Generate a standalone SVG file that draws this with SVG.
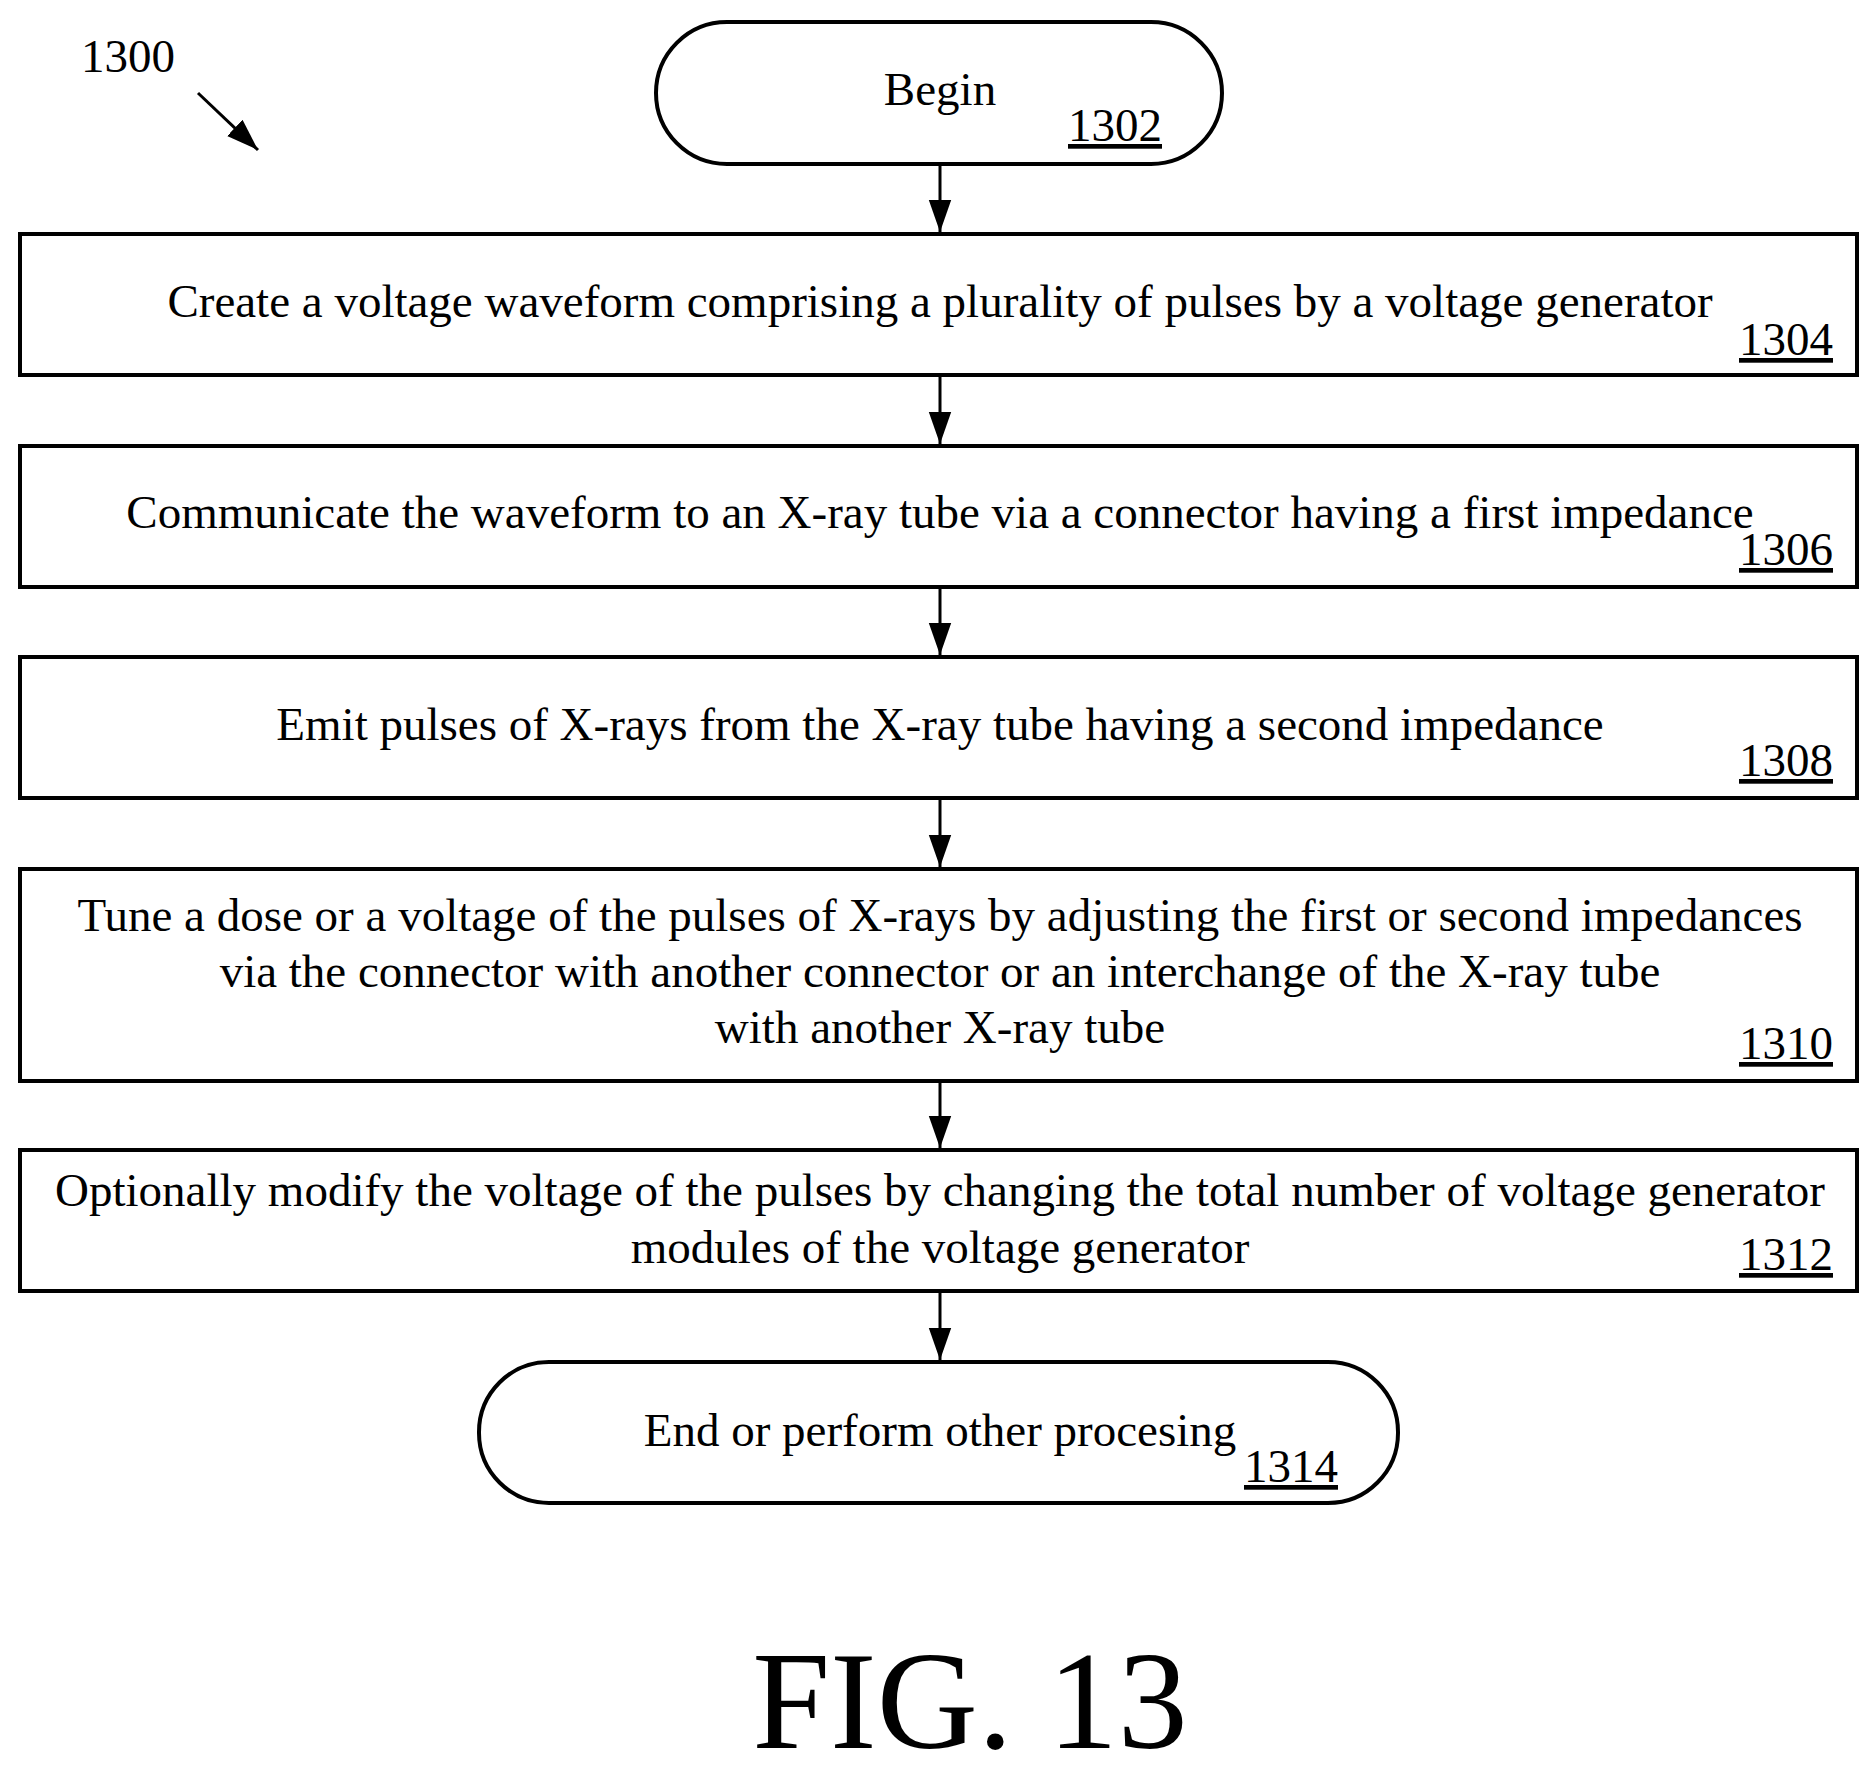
<svg xmlns="http://www.w3.org/2000/svg" width="1875" height="1776" viewBox="0 0 1875 1776">
<style>
text{font-family:"Liberation Serif","Times New Roman",serif;fill:#000;font-size:47px}
.c{text-anchor:middle}.n{text-anchor:end;text-decoration:underline}
.b{fill:#fff;stroke:#000;stroke-width:4}
.l{stroke:#000;stroke-width:3;fill:none}
</style>
<defs>
<marker id="h" viewBox="0 0 10 10" refX="10" refY="5" markerWidth="32" markerHeight="32" markerUnits="userSpaceOnUse" orient="auto"><path d="M0,1.5L10,5L0,8.5z"/></marker></defs>
<rect width="1875" height="1776" fill="#fff"/>
<g id="label1300"><text x="81" y="72">1300</text><line class="l" x1="198" y1="93" x2="258" y2="150" marker-end="url(#h)"/></g>
<g id="connectors">
<line class="l" x1="940" y1="164" x2="940" y2="232" marker-end="url(#h)"/>
<line class="l" x1="940" y1="375" x2="940" y2="444" marker-end="url(#h)"/>
<line class="l" x1="940" y1="587" x2="940" y2="655" marker-end="url(#h)"/>
<line class="l" x1="940" y1="798" x2="940" y2="867" marker-end="url(#h)"/>
<line class="l" x1="940" y1="1081" x2="940" y2="1148" marker-end="url(#h)"/>
<line class="l" x1="940" y1="1291" x2="940" y2="1360" marker-end="url(#h)"/>
</g>
<g id="n1302"><rect class="b" x="656" y="22" width="566" height="142" rx="71"/><text class="c" x="940" y="105">Begin</text><text class="n" x="1162" y="141">1302</text></g>
<g id="n1304"><rect class="b" x="20" y="234" width="1837" height="141"/><text class="c" x="940" y="317">Create a voltage waveform comprising a plurality of pulses by a voltage generator</text><text class="n" x="1833" y="355">1304</text></g>
<g id="n1306"><rect class="b" x="20" y="446" width="1837" height="141"/><text class="c" x="940" y="528">Communicate the waveform to an X-ray tube via a connector having a first impedance</text><text class="n" x="1833" y="565">1306</text></g>
<g id="n1308"><rect class="b" x="20" y="657" width="1837" height="141"/><text class="c" x="940" y="740">Emit pulses of X-rays from the X-ray tube having a second impedance</text><text class="n" x="1833" y="776">1308</text></g>
<g id="n1310"><rect class="b" x="20" y="869" width="1837" height="212"/><text class="c" x="940" y="931">Tune a dose or a voltage of the pulses of X-rays by adjusting the first or second impedances</text><text class="c" x="940" y="987">via the connector with another connector or an interchange of the X-ray tube</text><text class="c" x="940" y="1043">with another X-ray tube</text><text class="n" x="1833" y="1059">1310</text></g>
<g id="n1312"><rect class="b" x="20" y="1150" width="1837" height="141"/><text class="c" x="940" y="1206">Optionally modify the voltage of the pulses by changing the total number of voltage generator</text><text class="c" x="940" y="1263">modules of the voltage generator</text><text class="n" x="1833" y="1270">1312</text></g>
<g id="n1314"><rect class="b" x="479" y="1362" width="919" height="141" rx="70"/><text class="c" x="940" y="1446">End or perform other procesing</text><text class="n" x="1338" y="1482">1314</text></g>
<text class="c" x="970" y="1748" style="font-size:140px">FIG. 13</text>
</svg>
